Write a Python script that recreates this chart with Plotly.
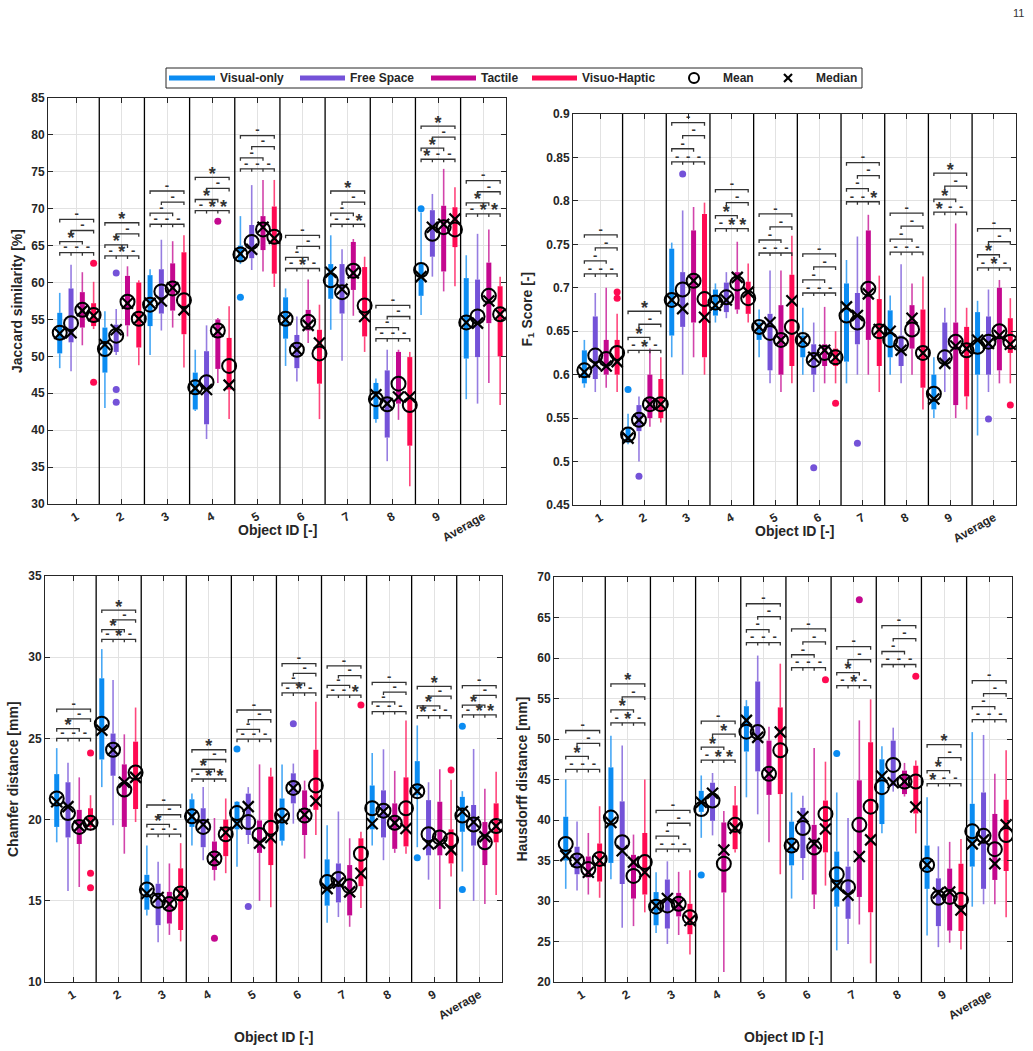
import plotly.graph_objects as go

W, H = 1033, 1051

GROUPS = ['1', '2', '3', '4', '5', '6', '7', '8', '9', 'Average']
SERIES = ['Visual-only', 'Free Space', 'Tactile', 'Visuo-Haptic']
COLORS = ['#0b8cf2', '#7452d8', '#c4088f', '#ff0a52']

# each row (one per object group): [whisker_low, q1, median, q3, whisker_high, mean]
JAC_VIS = [[48.4, 50.4, 53.1, 55.9, 58.6, 53.2], [43.0, 47.8, 51.6, 53.9, 56.1, 51.0],
           [50.2, 54.1, 57.2, 61.0, 61.8, 57.0], [42.6, 42.8, 45.7, 47.8, 50.9, 45.8],
           [62.5, 62.8, 63.9, 65.0, 69.0, 63.8], [48.7, 52.4, 55.0, 58.0, 59.2, 55.1],
           [53.6, 57.8, 61.4, 62.5, 66.4, 60.3], [41.0, 41.5, 44.8, 46.4, 47.0, 44.2],
           [55.6, 58.2, 60.8, 62.6, 69.5, 61.7], [44.2, 49.7, 54.6, 60.6, 63.7, 54.6]]
JAC_FREE = [[48.0, 51.9, 53.2, 59.2, 62.4, 54.5], [50.2, 50.6, 53.6, 54.3, 56.4, 52.8],
            [53.5, 55.8, 57.5, 61.8, 65.8, 58.8], [38.8, 40.8, 45.5, 50.7, 54.2, 46.5],
            [61.7, 63.3, 64.5, 67.8, 73.2, 65.5], [46.6, 48.4, 50.9, 52.9, 55.4, 50.9],
            [49.4, 55.8, 59.1, 62.5, 64.5, 58.7], [35.8, 39.0, 43.6, 48.1, 50.9, 43.5],
            [60.8, 63.5, 67.5, 69.8, 72.0, 66.6], [43.6, 49.9, 54.5, 60.4, 66.6, 55.4]]
JAC_TAC = [[51.5, 53.9, 56.2, 58.7, 61.4, 56.3], [52.7, 54.2, 57.2, 60.9, 62.2, 57.4],
           [53.9, 56.2, 59.3, 62.6, 65.6, 59.2], [46.4, 48.3, 53.4, 55.0, 55.2, 53.5],
           [61.5, 64.4, 67.5, 69.0, 73.9, 67.2], [51.8, 53.5, 54.2, 56.3, 60.4, 54.7],
           [55.5, 59.0, 61.3, 65.5, 65.9, 61.6], [41.4, 43.6, 44.5, 50.6, 50.9, 46.3],
           [58.8, 61.5, 67.9, 70.4, 75.4, 67.5], [46.4, 54.5, 57.5, 62.7, 67.2, 58.2]]
JAC_VH = [[53.7, 54.1, 55.5, 57.2, 60.1, 55.6], [48.8, 51.2, 55.1, 60.0, 60.3, 55.1],
          [48.5, 53.0, 56.3, 64.1, 66.4, 57.6], [41.5, 45.5, 46.1, 52.5, 56.8, 48.7],
          [59.4, 61.2, 66.0, 70.3, 73.9, 66.2], [41.5, 46.3, 51.8, 53.6, 57.0, 50.4],
          [50.6, 52.7, 55.4, 62.1, 63.5, 56.9], [32.4, 37.9, 44.5, 49.9, 50.6, 43.4],
          [59.5, 64.8, 68.6, 70.2, 72.9, 67.2], [43.4, 50.0, 55.7, 59.5, 60.8, 55.7]]
# outliers: (group number, series index, value)
JAC_OUT = [(1, 3, 62.6), (1, 3, 46.5), (2, 1, 61.3), (2, 1, 45.5), (2, 1, 43.8),
           (4, 2, 68.3), (5, 0, 58.0), (9, 0, 70.0)]
# significance: lowest bracket height per group; labels 1-2, 2-3, 3-4, 1-3, 2-4, 1-4
JAC_BASE = [64.05, 63.6, 67.9, 69.75, 75.4, 61.9, 67.9, 52.4, 76.7, 69.3]
JAC_SIG = ['---*--', '-*-*-*', '------', '-***-*', '------',
           '-*----', '--*--*', '------', '*--*-*', '-***--']

F1_VIS = [[0.585, 0.590, 0.603, 0.628, 0.640, 0.605], [0.520, 0.522, 0.527, 0.540, 0.555, 0.531],
          [0.620, 0.645, 0.686, 0.745, 0.752, 0.686], [0.660, 0.668, 0.680, 0.698, 0.705, 0.683],
          [0.620, 0.640, 0.655, 0.660, 0.675, 0.655], [0.600, 0.620, 0.640, 0.645, 0.677, 0.640],
          [0.590, 0.615, 0.678, 0.705, 0.732, 0.668], [0.600, 0.620, 0.650, 0.674, 0.691, 0.640],
          [0.550, 0.560, 0.572, 0.600, 0.620, 0.578], [0.530, 0.600, 0.640, 0.672, 0.685, 0.632]]
F1_FREE = [[0.580, 0.595, 0.612, 0.667, 0.694, 0.622], [0.500, 0.535, 0.548, 0.565, 0.575, 0.548],
           [0.600, 0.655, 0.676, 0.718, 0.789, 0.698], [0.665, 0.672, 0.686, 0.706, 0.718, 0.689],
           [0.590, 0.605, 0.660, 0.670, 0.720, 0.648], [0.580, 0.600, 0.620, 0.635, 0.660, 0.617],
           [0.600, 0.635, 0.668, 0.694, 0.759, 0.660], [0.590, 0.610, 0.628, 0.645, 0.727, 0.635],
           [0.580, 0.610, 0.613, 0.660, 0.677, 0.620], [0.580, 0.600, 0.636, 0.667, 0.698, 0.638]]
F1_TAC = [[0.585, 0.600, 0.610, 0.640, 0.700, 0.618], [0.540, 0.550, 0.566, 0.600, 0.630, 0.566],
          [0.620, 0.660, 0.708, 0.766, 0.793, 0.708], [0.670, 0.675, 0.712, 0.718, 0.753, 0.705],
          [0.580, 0.600, 0.640, 0.680, 0.720, 0.640], [0.590, 0.610, 0.628, 0.635, 0.678, 0.625],
          [0.600, 0.640, 0.693, 0.766, 0.784, 0.699], [0.600, 0.630, 0.665, 0.680, 0.705, 0.652],
          [0.550, 0.565, 0.633, 0.660, 0.774, 0.638], [0.590, 0.605, 0.645, 0.700, 0.709, 0.650]]
F1_VH = [[0.580, 0.600, 0.615, 0.640, 0.670, 0.625], [0.545, 0.550, 0.566, 0.595, 0.620, 0.566],
         [0.600, 0.620, 0.666, 0.785, 0.798, 0.687], [0.660, 0.670, 0.695, 0.707, 0.728, 0.688],
         [0.590, 0.610, 0.685, 0.715, 0.760, 0.655], [0.590, 0.610, 0.620, 0.630, 0.650, 0.620],
         [0.580, 0.610, 0.652, 0.687, 0.714, 0.650], [0.560, 0.585, 0.625, 0.675, 0.713, 0.625],
         [0.560, 0.575, 0.630, 0.655, 0.677, 0.628], [0.590, 0.625, 0.635, 0.665, 0.688, 0.638]]
F1_OUT = [(1, 3, 0.695), (1, 3, 0.688), (2, 0, 0.583), (2, 1, 0.483), (3, 1, 0.831),
          (6, 1, 0.493), (6, 3, 0.567), (7, 1, 0.521), (10, 1, 0.549), (10, 3, 0.565)]
F1_BASE = [0.716, 0.628, 0.845, 0.768, 0.740, 0.694, 0.799, 0.741, 0.787, 0.723]
F1_SIG = ['------', '-*-*-*', '------', '-***--', '------',
          '------', '--*---', '------', '*--*-*', '-*-*--']

CH_VIS = [[18.6, 19.55, 21.1, 22.8, 24.4, 21.3], [22.0, 23.7, 25.5, 28.7, 30.5, 25.9],
          [14.1, 14.45, 15.45, 16.6, 18.4, 15.7], [18.4, 19.55, 20.2, 21.25, 21.6, 20.2],
          [17.1, 19.4, 19.75, 21.1, 21.15, 20.4], [18.4, 18.7, 20.05, 21.3, 23.4, 20.25],
          [13.65, 14.7, 15.75, 17.55, 19.65, 16.15], [18.4, 19.4, 19.75, 22.1, 24.1, 20.7],
          [18.3, 21.5, 21.75, 23.6, 25.8, 21.75], [16.8, 19.25, 20.5, 21.4, 21.75, 20.25]]
CH_FREE = [[15.6, 18.9, 20.8, 22.3, 23.5, 20.4], [19.65, 22.7, 24.3, 25.3, 28.6, 24.3],
           [12.45, 13.5, 15.2, 16.05, 17.4, 15.0], [17.5, 18.3, 19.7, 20.7, 22.0, 19.55],
           [18.5, 19.05, 20.8, 21.6, 22.0, 19.85], [19.75, 21.0, 21.95, 22.85, 23.45, 21.95],
           [14.0, 14.9, 16.1, 17.3, 20.5, 16.35], [17.5, 18.9, 20.5, 21.8, 24.33, 20.55],
           [16.3, 17.8, 18.5, 21.2, 22.3, 19.1], [15.0, 18.4, 19.85, 20.9, 24.35, 19.7]]
CH_TAC = [[15.85, 18.5, 19.6, 20.6, 22.6, 19.55], [17.9, 19.55, 22.3, 23.4, 25.25, 21.85],
          [12.9, 13.6, 14.8, 15.55, 17.3, 14.8], [16.25, 16.9, 17.6, 18.65, 20.1, 17.6],
          [15.0, 17.95, 18.55, 19.95, 23.4, 19.05], [17.6, 19.05, 20.3, 21.8, 22.4, 20.25],
          [13.4, 14.1, 15.55, 17.2, 18.85, 15.9], [17.95, 18.2, 19.8, 21.0, 23.0, 19.8],
          [14.5, 17.8, 18.55, 21.1, 23.1, 18.9], [14.8, 17.2, 18.95, 19.85, 21.9, 18.6]]
CH_VH = [[19.3, 19.55, 19.8, 20.7, 21.5, 19.8], [19.85, 20.65, 22.6, 24.8, 26.9, 22.9],
         [12.5, 13.2, 15.45, 17.0, 18.55, 15.45], [16.7, 17.75, 19.2, 20.0, 21.3, 19.1],
         [14.6, 17.2, 18.9, 22.65, 23.2, 19.5], [19.05, 20.6, 21.15, 24.3, 27.25, 22.1],
         [14.55, 15.9, 16.7, 18.85, 19.25, 17.9], [17.9, 18.35, 19.45, 22.6, 26.1, 20.7],
         [16.5, 17.3, 18.15, 19.4, 22.45, 18.75], [15.35, 18.6, 19.6, 21.0, 22.95, 19.6]]
CH_OUT = [(1, 3, 16.7), (1, 3, 15.8), (1, 3, 24.1), (4, 2, 12.7), (5, 0, 24.35), (5, 1, 14.65),
          (6, 1, 25.9), (7, 3, 27.05), (9, 0, 17.65), (9, 3, 23.05), (10, 0, 25.75), (10, 0, 15.7)]
CH_BASE = [25.0, 31.1, 19.1, 22.5, 24.95, 27.8, 27.67, 26.65, 26.4, 26.45]
CH_SIG = ['---*--', '-*-*-*', '---*--', '-***-*', '------',
          '-*----', '--*---', '------', '*--*-*', '-***--']

HD_VIS = [[31.5, 35.0, 35.6, 40.4, 45.0, 37.05], [32.7, 34.7, 39.7, 46.5, 50.4, 40.3],
          [26.05, 27.0, 29.4, 31.1, 33.55, 29.3], [37.8, 41.0, 42.2, 43.6, 45.5, 41.35],
          [42.8, 48.45, 52.3, 54.05, 54.8, 50.9], [30.3, 34.4, 36.8, 39.8, 43.4, 36.85],
          [23.9, 29.3, 31.9, 36.1, 43.4, 33.3], [38.35, 39.5, 45.4, 47.5, 49.1, 44.05],
          [25.75, 31.5, 34.45, 36.85, 42.8, 34.45], [29.3, 34.25, 37.05, 42.0, 50.85, 38.6]]
HD_FREE = [[31.3, 33.3, 34.9, 36.7, 39.8, 35.0], [26.7, 32.1, 36.2, 42.3, 49.2, 37.25],
           [24.7, 26.6, 30.3, 32.65, 34.9, 29.45], [38.1, 39.9, 43.3, 44.6, 45.8, 42.4],
           [40.7, 46.0, 50.2, 57.1, 60.3, 50.85], [32.6, 35.3, 40.4, 41.5, 43.0, 39.0],
           [24.7, 27.8, 30.7, 34.25, 40.25, 31.7], [43.5, 44.2, 44.6, 49.8, 51.4, 46.8],
           [24.3, 26.9, 31.0, 32.8, 36.75, 30.4], [29.6, 31.5, 37.55, 43.4, 50.5, 38.05]]
HD_TAC = [[30.8, 32.9, 33.55, 35.5, 38.4, 33.95], [26.9, 30.3, 34.8, 35.7, 38.2, 33.1],
          [25.8, 28.1, 29.6, 31.0, 33.6, 29.65], [21.25, 31.05, 36.3, 39.7, 41.1, 34.6],
          [37.25, 43.1, 45.7, 49.8, 51.5, 45.7], [29.0, 30.8, 37.1, 39.4, 48.9, 36.6],
          [27.1, 30.5, 35.5, 44.9, 52.3, 39.4], [42.9, 43.2, 44.75, 46.1, 47.05, 44.75],
          [24.85, 26.35, 31.1, 34.0, 37.3, 30.5], [29.6, 32.6, 34.6, 40.75, 45.7, 36.4]]
HD_VH = [[30.4, 32.4, 35.0, 37.1, 41.7, 35.2], [28.6, 30.8, 33.55, 38.4, 45.0, 34.8],
         [23.4, 25.9, 27.6, 29.65, 33.8, 28.0], [36.0, 36.4, 39.0, 41.8, 44.2, 39.4],
         [33.3, 43.2, 50.85, 53.9, 59.3, 48.6], [31.9, 36.0, 38.9, 42.4, 47.2, 40.75],
         [22.3, 28.6, 37.55, 49.6, 54.9, 41.65], [38.35, 40.8, 41.6, 46.7, 47.35, 44.75],
         [24.0, 26.3, 28.9, 34.6, 37.65, 30.15], [28.0, 33.7, 39.4, 42.5, 48.6, 38.15]]
HD_OUT = [(4, 0, 33.2), (6, 3, 57.3), (7, 0, 48.2), (7, 2, 67.2), (8, 3, 57.75)]
HD_BASE = [46.25, 52.0, 36.4, 47.4, 61.9, 58.8, 56.6, 59.2, 44.5, 52.4]
HD_SIG = ['---*--', '-*-*-*', '------', '-****-', '------',
          '------', '-*-*--', '------', '*--*-*', '------']

# ---------------------------------------------------------------- style
FONT = 'Liberation Sans, Arial, sans-serif'
INK = '#262626'
OFFS = [-0.375, -0.125, 0.125, 0.375]
XR = [0.365, 10.505]

PANELS = [
    dict(data=[JAC_VIS, JAC_FREE, JAC_TAC, JAC_VH], out=JAC_OUT, base=JAC_BASE, sig=JAC_SIG,
         yr=[30, 85], title='Jaccard similarity [%]', step=1.5,
         px=(48, 506, 98, 504), ytx=17),
    dict(data=[F1_VIS, F1_FREE, F1_TAC, F1_VH], out=F1_OUT, base=F1_BASE, sig=F1_SIG,
         yr=[0.45, 0.9], title='F<sub>1</sub> Score [-]', step=0.015,
         px=(573, 1016, 114, 505), ytx=527),
    dict(data=[CH_VIS, CH_FREE, CH_TAC, CH_VH], out=CH_OUT, base=CH_BASE, sig=CH_SIG,
         yr=[10, 35], title='Chamfer distance [mm]', step=0.6,
         px=(45, 502, 576, 982), ytx=13),
    dict(data=[HD_VIS, HD_FREE, HD_TAC, HD_VH], out=HD_OUT, base=HD_BASE, sig=HD_SIG,
         yr=[20, 70], title='Hausdorff distance [mm]', step=1.6,
         px=(554, 1012, 577, 982), ytx=521),
]


def fx(p):
    return p / W


def fy(p):
    return 1 - p / H


fig = go.Figure()
shapes = []
annotations = []

for i, P in enumerate(PANELS):
    k = '' if i == 0 else str(i + 1)
    xa, ya = 'x' + k, 'y' + k
    x0p, x1p, y0p, y1p = P['px']
    ppu = (y1p - y0p) / (P['yr'][1] - P['yr'][0])  # pixels per data unit

    for s, rows in enumerate(P['data']):
        wx, wy, bx, by = [], [], [], []
        for g, r in enumerate(rows):
            x = g + 1 + OFFS[s]
            wx += [x, x, None, x, x, None]
            wy += [r[0], r[1], None, r[3], r[4], None]
            bx += [x, x, None]
            by += [r[1], r[3], None]
        fig.add_trace(go.Scatter(x=wx, y=wy, mode='lines', xaxis=xa, yaxis=ya,
                                 line=dict(color=COLORS[s], width=1.6), opacity=0.75,
                                 showlegend=False, hoverinfo='skip'))
        fig.add_trace(go.Scatter(x=bx, y=by, mode='lines', xaxis=xa, yaxis=ya,
                                 line=dict(color=COLORS[s], width=5),
                                 showlegend=False, hoverinfo='skip'))
    # outliers
    for s in range(4):
        ox = [g + OFFS[ss] for g, ss, v in P['out'] if ss == s]
        oy = [v for g, ss, v in P['out'] if ss == s]
        if ox:
            fig.add_trace(go.Scatter(x=ox, y=oy, mode='markers', xaxis=xa, yaxis=ya,
                                     marker=dict(symbol='circle', size=7, color=COLORS[s]),
                                     showlegend=False, hoverinfo='skip'))
    # means and medians
    mx, my, dx, dy = [], [], [], []
    for s, rows in enumerate(P['data']):
        for g, r in enumerate(rows):
            mx.append(g + 1 + OFFS[s]); my.append(r[5])
            dx.append(g + 1 + OFFS[s]); dy.append(r[2])
    fig.add_trace(go.Scatter(x=mx, y=my, mode='markers', xaxis=xa, yaxis=ya,
                             marker=dict(symbol='circle-open', size=14, color='black',
                                         line=dict(width=2)),
                             showlegend=False, hoverinfo='skip'))
    fig.add_trace(go.Scatter(x=dx, y=dy, mode='markers', xaxis=xa, yaxis=ya,
                             marker=dict(symbol='x-thin-open', size=11, color='black',
                                         line=dict(width=2.2)),
                             showlegend=False, hoverinfo='skip'))

    # significance brackets
    step = P['step']
    drop = 3.0 / ppu
    bxs, bys = [], []
    st_x, st_y, da_x, da_y = [], [], [], []
    for g in range(10):
        c = g + 1
        b = P['base'][g]
        rows = [(b, -0.375, 0.375, [-0.125, 0.125]),
                (b + step, -0.375, 0.125, []),
                (b + 2 * step, -0.125, 0.375, []),
                (b + 3 * step, -0.375, 0.375, [])]
        for yv, a0, a1, mids in rows:
            bxs += [c + a0, c + a0, c + a1, c + a1, None]
            bys += [yv - drop, yv, yv, yv - drop, None]
            for m in mids:
                bxs += [c + m, c + m, None]
                bys += [yv, yv - drop, None]
        lab_pos = [(c - 0.25, b), (c, b), (c + 0.25, b),
                   (c - 0.125, b + step), (c + 0.125, b + 2 * step), (c, b + 3 * step)]
        for ch, (lx, ly) in zip(P['sig'][g], lab_pos):
            if ch == '*':
                st_x.append(lx); st_y.append(ly + 2.0 / ppu)
            else:
                da_x.append(lx); da_y.append(ly + 4.5 / ppu)
    fig.add_trace(go.Scatter(x=bxs, y=bys, mode='lines', xaxis=xa, yaxis=ya,
                             line=dict(color='#333333', width=1.3),
                             showlegend=False, hoverinfo='skip'))
    fig.add_trace(go.Scatter(x=st_x, y=st_y, mode='text', text=['*'] * len(st_x),
                             textposition='middle center', xaxis=xa, yaxis=ya,
                             textfont=dict(family=FONT, size=18, color='#333333', weight='bold'),
                             showlegend=False, hoverinfo='skip'))
    fig.add_trace(go.Scatter(x=da_x, y=da_y, mode='text', text=['-'] * len(da_x),
                             textposition='middle center', xaxis=xa, yaxis=ya,
                             textfont=dict(family=FONT, size=13, color='#333333', weight='bold'),
                             showlegend=False, hoverinfo='skip'))

    # group separators
    for kk in range(1, 10):
        shapes.append(dict(type='line', xref=xa, yref=ya + ' domain', x0=kk + 0.5, x1=kk + 0.5,
                           y0=0, y1=1, line=dict(color='black', width=1.3)))

    axis_common = dict(showline=True, linecolor=INK, linewidth=1, mirror='ticks',
                       ticks='inside', ticklen=5, tickcolor=INK, showgrid=True,
                       gridcolor='#e2e2e2', gridwidth=1, zeroline=False, automargin=False,
                       tickfont=dict(family=FONT, size=12, color=INK, weight='bold'))
    fig.layout['xaxis' + k] = dict(axis_common, domain=[fx(x0p), fx(x1p)], range=XR,
                                   anchor=ya, tickmode='array', tickvals=list(range(1, 11)),
                                   ticktext=GROUPS, tickangle=-30)
    fig.layout['yaxis' + k] = dict(axis_common, domain=[fy(y1p), fy(y0p)], range=P['yr'],
                                   anchor=xa, dtick=5 if P['yr'][1] > 2 else 0.05)
    # axis titles
    annotations.append(dict(text='Object ID [-]', xref='paper', yref='paper',
                            x=fx((x0p + x1p) / 2), y=fy(y1p + 26 if i < 2 else 1037),
                            xanchor='center', yanchor='middle', showarrow=False,
                            font=dict(family=FONT, size=14, color=INK, weight='bold')))
    annotations.append(dict(text=P['title'], xref='paper', yref='paper', textangle=-90,
                            x=fx(P['ytx']), y=fy((y0p + y1p) / 2),
                            xanchor='center', yanchor='middle', showarrow=False,
                            font=dict(family=FONT, size=14, color=INK, weight='bold')))

# ---------------------------------------------------------------- legend (drawn)
LY = 78
shapes.append(dict(type='rect', xref='paper', yref='paper', x0=fx(166), x1=fx(862),
                   y0=fy(88), y1=fy(68), line=dict(color=INK, width=1), fillcolor='white'))
leg_items = [(169, 215, 218), (300, 345, 348), (431, 476, 479), (532, 577, 580)]
for s, (a, b, t) in enumerate(leg_items):
    shapes.append(dict(type='line', xref='paper', yref='paper', x0=fx(a), x1=fx(b),
                       y0=fy(LY), y1=fy(LY), line=dict(color=COLORS[s], width=5)))
    annotations.append(dict(text=SERIES[s], xref='paper', yref='paper', x=fx(t), y=fy(LY),
                            xanchor='left', yanchor='middle', showarrow=False,
                            font=dict(family=FONT, size=12, color=INK, weight='bold')))
shapes.append(dict(type='circle', xref='paper', yref='paper', xsizemode='pixel',
                   ysizemode='pixel', xanchor=fx(694), yanchor=fy(LY),
                   x0=-5, x1=5, y0=-5, y1=5, line=dict(color='black', width=2)))
for yy in (1, -1):
    shapes.append(dict(type='line', xref='paper', yref='paper', xsizemode='pixel',
                       ysizemode='pixel', xanchor=fx(788), yanchor=fy(LY),
                       x0=-4, x1=4, y0=-4 * yy, y1=4 * yy, line=dict(color='black', width=2.2)))
annotations.append(dict(text='Mean', xref='paper', yref='paper', x=fx(721), y=fy(LY),
                        xanchor='left', yanchor='middle', showarrow=False,
                        font=dict(family=FONT, size=12, color=INK, weight='bold')))
annotations.append(dict(text='Median', xref='paper', yref='paper', x=fx(814), y=fy(LY),
                        xanchor='left', yanchor='middle', showarrow=False,
                        font=dict(family=FONT, size=12, color=INK, weight='bold')))
# page number
annotations.append(dict(text='11', xref='paper', yref='paper', x=fx(1018), y=fy(13),
                        xanchor='center', yanchor='middle', showarrow=False,
                        font=dict(family=FONT, size=11, color='#333333')))

fig.update_layout(width=W, height=H, margin=dict(l=0, r=0, t=0, b=0),
                  paper_bgcolor='white', plot_bgcolor='white', showlegend=False,
                  shapes=shapes, annotations=annotations, font=dict(family=FONT))

fig.write_html('out.html')
